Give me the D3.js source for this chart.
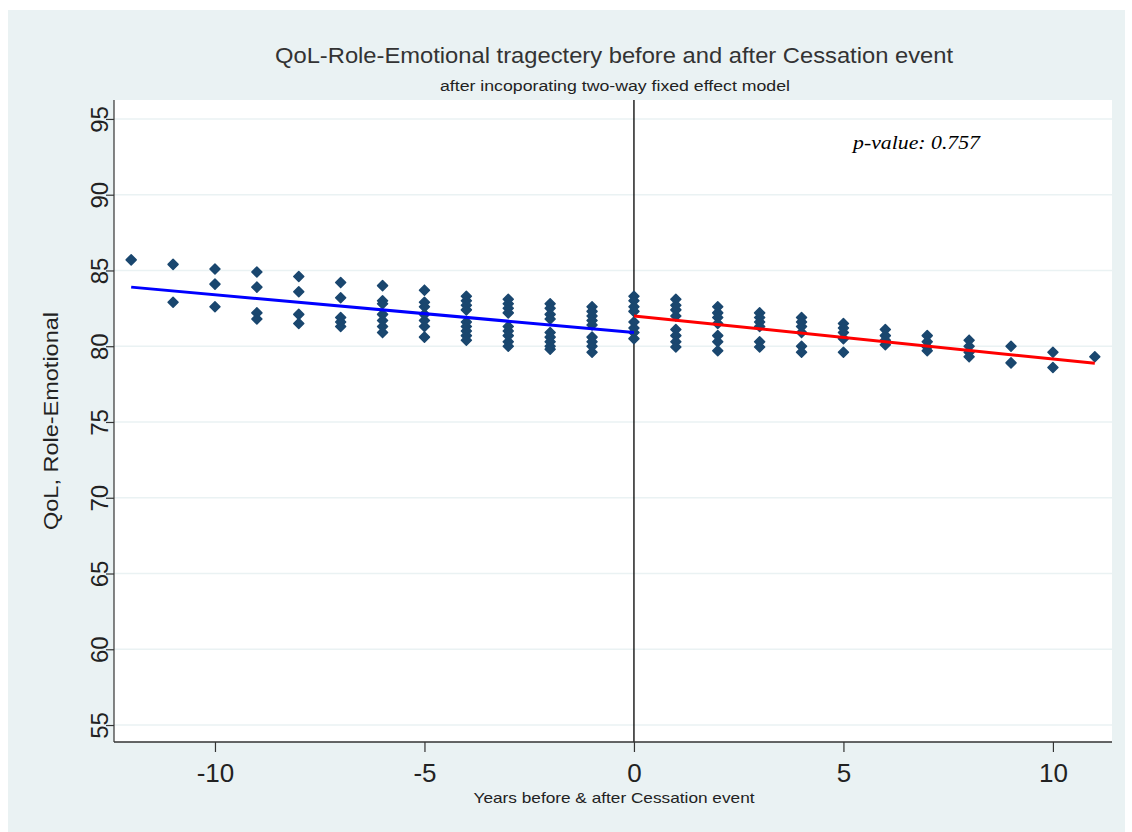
<!DOCTYPE html>
<html>
<head>
<meta charset="utf-8">
<script src="https://cdn.jsdelivr.net/npm/d3@7"></script>
<style>
  html, body { margin: 0; padding: 0; background: #ffffff; }
  svg { display: block; }
</style>
</head>
<body>
<svg id="chart" width="1132" height="832"></svg>
<script>
// ---- Data ----
const years = [-12, -11, -10, -9, -8, -7, -6, -5, -4, -3, -2, -1, 0, 1, 2, 3, 4, 5, 6, 7, 8, 9, 10, 11];
const qolValues = [
  [85.7],
  [85.4, 82.9],
  [85.1, 84.1, 82.6],
  [84.9, 83.9, 82.2, 81.8],
  [84.6, 83.6, 82.1, 81.5],
  [84.2, 83.2, 81.9, 81.6, 81.3],
  [84.0, 83.0, 82.8, 82.1, 81.7, 81.3, 80.9],
  [83.7, 82.9, 82.6, 82.1, 81.7, 81.3, 80.6],
  [83.3, 83.0, 82.7, 82.4, 81.6, 81.3, 81.0, 80.7, 80.4],
  [83.1, 82.8, 82.5, 82.2, 81.3, 81.0, 80.7, 80.3, 80.0],
  [82.8, 82.5, 82.1, 81.8, 80.9, 80.6, 80.3, 80.0, 79.8],
  [82.6, 82.3, 82.0, 81.7, 81.4, 80.6, 80.3, 80.0, 79.6],
  [83.3, 83.0, 82.6, 82.3, 81.6, 81.2, 80.9, 80.5],
  [83.1, 82.7, 82.4, 82.0, 81.1, 80.7, 80.3, 79.95],
  [82.6, 82.2, 81.9, 81.5, 80.7, 80.3, 79.7],
  [82.2, 81.9, 81.6, 81.3, 80.3, 79.95],
  [81.9, 81.6, 81.3, 80.9, 80.0, 79.6],
  [81.5, 81.2, 80.9, 80.5, 79.6],
  [81.1, 80.7, 80.4, 80.1],
  [80.7, 80.3, 79.95, 79.7],
  [80.4, 80.0, 79.6, 79.3],
  [80.0, 78.9],
  [79.6, 78.6],
  [79.3]
];
const fitBeforeX = [-12, 0];
const fitBeforeY = [83.9, 80.9];
const fitAfterX = [0, 11];
const fitAfterY = [82.0, 78.87];
const yTicks = [55, 60, 65, 70, 75, 80, 85, 90, 95];
const xTicks = [-10, -5, 0, 5, 10];
const titleText = "QoL-Role-Emotional tragectery before and after Cessation event";
const subtitleText = "after incoporating two-way fixed effect model";
const xTitleText = "Years before & after Cessation event";
const yTitleText = "QoL, Role-Emotional";
const pValueText = "p-value: 0.757";

// ---- Layout ----
const svg = d3.select("#chart");
const plot = { left: 114, right: 1112, top: 100, bottom: 742 };
const x = d3.scaleLinear().domain([-12.41, 11.41]).range([plot.left, plot.right]);
const y = d3.scaleLinear().domain([53.88, 96.25]).range([plot.bottom, plot.top]);

const bg = "#eaf2f3";
const navy = "#1a476f";
const font = "'Liberation Sans', Arial, sans-serif";

// outer background
svg.append("rect").attr("x", 8).attr("y", 10).attr("width", 1117).attr("height", 822).attr("fill", bg);
// plot region
svg.append("rect").attr("x", plot.left).attr("y", plot.top)
  .attr("width", plot.right - plot.left).attr("height", plot.bottom - plot.top).attr("fill", "#ffffff");

// gridlines
svg.append("g").selectAll("line").data(yTicks).join("line")
  .attr("x1", plot.left).attr("x2", plot.right)
  .attr("y1", d => y(d)).attr("y2", d => y(d))
  .attr("stroke", bg).attr("stroke-width", 1.5);

// vertical reference line at 0
svg.append("line")
  .attr("x1", x(0)).attr("x2", x(0)).attr("y1", plot.top).attr("y2", plot.bottom)
  .attr("stroke", "#000").attr("stroke-width", 1.3);

// scatter points
const pts = [];
years.forEach((yr, i) => qolValues[i].forEach(v => pts.push({ yr, v })));
svg.append("g").selectAll("path").data(pts).join("path")
  .attr("transform", d => `translate(${x(d.yr)},${y(d.v)})`)
  .attr("d", "M0,-5L5,0L0,5L-5,0Z")
  .attr("fill", navy).attr("stroke", navy).attr("stroke-width", 1.5).attr("stroke-linejoin", "round");

// fit lines
const line = d3.line().x(d => x(d[0])).y(d => y(d[1]));
svg.append("path").datum(fitBeforeX.map((v, i) => [v, fitBeforeY[i]]))
  .attr("d", line).attr("fill", "none").attr("stroke", "#0000ff").attr("stroke-width", 3);
svg.append("path").datum(fitAfterX.map((v, i) => [v, fitAfterY[i]]))
  .attr("d", line).attr("fill", "none").attr("stroke", "#ff0000").attr("stroke-width", 3);

// y axis
const yAxis = svg.append("g").attr("transform", `translate(${plot.left},0)`)
  .call(d3.axisLeft(y).tickValues(yTicks).tickSize(8).tickPadding(4).tickFormat(d3.format("d")));
yAxis.select(".domain").attr("d", `M0,${plot.top}V${plot.bottom}`).attr("stroke", "#333").attr("stroke-width", 1.2);
yAxis.selectAll(".tick line").attr("stroke", "#333").attr("stroke-width", 1.2);
yAxis.selectAll(".tick text")
  .attr("x", null).attr("dy", null)
  .attr("transform", "translate(-15,0) rotate(-90)")
  .attr("text-anchor", "middle").attr("dominant-baseline", "central")
  .attr("font-family", font).attr("font-size", 24).attr("fill", "#222");

// x axis
const xAxis = svg.append("g").attr("transform", `translate(0,${plot.bottom})`)
  .call(d3.axisBottom(x).tickValues(xTicks).tickSize(10).tickPadding(12).tickFormat(d3.format("d")));
xAxis.select(".domain").attr("d", `M${plot.left},0H${plot.right}`).attr("stroke", "#333").attr("stroke-width", 1.5);
xAxis.selectAll(".tick line").attr("stroke", "#333").attr("stroke-width", 1.2);
xAxis.selectAll(".tick text")
  .attr("font-family", font).attr("font-size", 26).attr("fill", "#222")
  .text(d => d < 0 ? "-" + Math.abs(d) : String(d));

// titles
svg.append("text").attr("x", 614).attr("y", 63).attr("text-anchor", "middle")
  .attr("font-family", font).attr("font-size", 22).attr("fill", "#333")
  .attr("textLength", 678).attr("lengthAdjust", "spacingAndGlyphs").text(titleText);
svg.append("text").attr("x", 615).attr("y", 91).attr("text-anchor", "middle")
  .attr("font-family", font).attr("font-size", 14).attr("fill", "#222")
  .attr("textLength", 350).attr("lengthAdjust", "spacingAndGlyphs").text(subtitleText);
svg.append("text").attr("x", 614).attr("y", 803).attr("text-anchor", "middle")
  .attr("font-family", font).attr("font-size", 15).attr("fill", "#222")
  .attr("textLength", 281).attr("lengthAdjust", "spacingAndGlyphs").text(xTitleText);
svg.append("text").attr("transform", `translate(58,421) rotate(-90)`).attr("text-anchor", "middle")
  .attr("font-family", font).attr("font-size", 20).attr("fill", "#222")
  .attr("textLength", 218).attr("lengthAdjust", "spacingAndGlyphs").text(yTitleText);

// p-value annotation
svg.append("text").attr("x", 853).attr("y", 149)
  .attr("font-family", "'Liberation Serif', 'Times New Roman', serif").attr("font-style", "italic")
  .attr("font-size", 19).attr("fill", "#000")
  .attr("textLength", 127).attr("lengthAdjust", "spacingAndGlyphs").text(pValueText);
</script>
</body>
</html>
